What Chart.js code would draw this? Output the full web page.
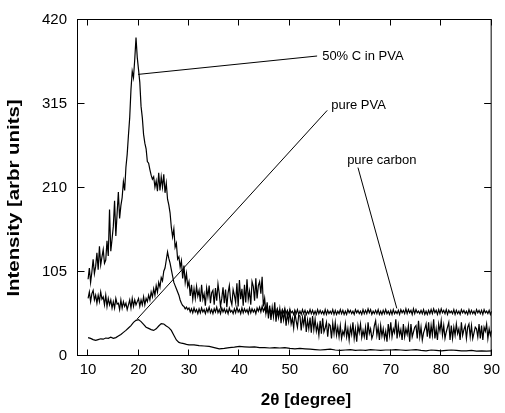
<!DOCTYPE html>
<html>
<head>
<meta charset="utf-8">
<script src="https://cdn.jsdelivr.net/npm/chart.js@4.4.0/dist/chart.umd.min.js"></script>
<style>html,body{margin:0;background:#fff}</style>
</head>
<body>
<canvas id="xrd" width="505" height="413"></canvas>
<script>
// scan grid of the two noisy curves: 10..90 deg, 0.25 deg step
const thetaStart = 10, thetaStep = 0.25;

// 50% C in PVA, one block of 4 per degree
const mixIntensity = [
  96,110,92,105, 121,103,112,129, 108,137,114,124, 133,116,120,144, 125,183,131,146,
  162,194,150,178, 205,172,188,198, 218,207,236,252, 276,298,333,356, 348,371,398,373,
  358,342,312,298, 277,266,259,243, 241,233,226,221, 224,211,219,206, 229,207,224,211,
  227,204,216,196, 189,179,161,149, 159,136,141,121, 124,111,119,97, 113,92,103,87,
  93,75,89,71, 84,72,87,75, 82,68,89,71, 78,63,85,74, 88,66,79,82,
  64,85,69,90, 78,62,72,86, 66,83,61,79, 88,70,64,83, 76,67,91,62,
  95,71,84,63, 89,67,96,71, 81,64,93,87, 69,97,72,88, 93,78,99,62,
  72,54,67,47, 63,45,61,49, 67,43,57,48, 59,41,55,45, 57,38,53,43,
  56,40,47,35, 54,44,36,51, 50,32,48,39, 52,30,45,34, 48,29,50,33,
  46,31,39,26, 44,28,47,30, 35,42,24,40, 38,22,41,28, 42,26,36,24,
  38,22,31,26, 40,24,34,20, 36,27,42,22, 34,18,38,29, 40,23,32,24,
  36,20,42,28, 34,22,27,38, 44,26,36,20, 38,25,34,22, 31,18,40,26,
  42,24,34,29, 46,22,38,26, 33,20,40,24, 34,27,38,18, 40,24,30,36,
  38,22,44,24, 36,20,29,34, 40,24,42,22, 38,26,46,22, 34,20,40,31,
  44,26,38,22, 30,36,42,20, 38,22,36,26, 40,28,34,20, 42,26,33,38,
  22,36,40,24, 38,22,29,36, 34,24,40,22, 38,20,36,31, 40,22,34,26,
  32
];

// pure carbon
const carbonIntensity = [
  72,80,68,78, 82,70,76,66, 76,68,80,71, 74,64,76,62, 72,64,70,60,
  68,60,72,65, 66,58,70,60, 68,62,66,58, 64,70,60,72, 62,70,64,68,
  72,62,70,64, 74,64,72,68, 76,70,80,74, 84,76,88,80, 92,86,98,94,
  106,110,120,130, 122,116,108,100, 92,88,84,80, 76,70,66,63, 62,59,61,58,
  60,55,59,54, 60,55,58,53, 59,54,60,55, 58,53,59,55, 61,54,58,53,
  59,55,61,54, 58,53,60,55, 59,54,58,53, 60,55,57,53, 59,54,61,55,
  58,53,60,54, 59,55,58,53, 60,54,59,55, 58,53,60,56, 61,55,62,56,
  60,54,58,53, 59,55,57,52, 58,53,59,54, 57,52,58,54, 59,53,57,52,
  58,54,56,52, 57,53,58,52, 56,52,58,53, 57,52,56,53, 58,53,57,52,
  56,52,58,53, 57,53,56,52, 58,52,57,53, 56,53,58,52, 57,52,56,53,
  58,53,57,52, 56,52,58,54, 57,53,56,52, 58,54,57,53, 56,52,58,53,
  57,53,59,54, 58,52,56,53, 57,53,58,52, 56,52,57,53, 58,53,56,52,
  57,52,58,53, 56,53,57,52, 58,54,57,53, 59,53,58,54, 57,52,59,53,
  58,54,56,53, 57,53,58,52, 56,52,57,53, 58,53,59,54, 57,52,58,53,
  59,54,57,53, 58,52,57,54, 56,53,58,52, 57,53,56,52, 58,54,57,53,
  56,52,58,53, 57,53,56,52, 58,54,57,53, 57,52,58,54, 56,53,57,52,
  56
];

// pure PVA (smooth)
const pvaTheta = [
  10,10.5,11,11.5,12,12.5,13,13.5,14,14.5,15,15.5,16,16.5,17,17.5,18,18.5,19,19.5,
  20,20.5,21,21.5,22,22.5,23,23.5,24,24.5,25,25.5,26,26.5,27,27.5,28,28.5,29,29.5,30,
  31,32,33,34,35,36,37,38,39,40,41,42,43,44,45,46,47,48,49,50,
  51,52,53,54,55,56,57,58,59,60,61,62,63,64,65,66,67,68,69,70,
  71,72,73,74,75,76,77,78,79,80,81,82,83,84,85,86,87,88,89,90
];
const pvaIntensity = [
  23,22,20.5,19.5,20.5,21.5,21,22.5,22,23.5,22,23,25,27,29.5,32,35,38,42,44.5,
  45.5,43,39.5,36,34.5,33,32,34,37.5,40.5,40,37.5,35.5,32,26,20,17,16,15.5,14.5,14,
  14,13,12.5,12,10.5,9,9.5,10.5,11,12,11.5,11,11.5,10.5,10.5,10,10.5,10,10.5,9.5,
  9,9.5,9,8.5,8,7.5,8,8.5,7.5,7,7.5,8,7,7.5,7,8,7.5,7,7.5,7.5,
  8,7.5,7,7.5,8,7,6.5,7.5,7,6.5,7,7.5,7,6.5,6.5,7,6,6.5,6,6.5
];

const xTicks = [10, 20, 30, 40, 50, 60, 70, 80, 90];
const yTicks = [0, 105, 210, 315, 420];

// callout texts with anchor (data coords) and leader line ends
const callouts = [
  { text: '50% C in PVA', at: [56.4, 375], from: [55.4, 375], to: [19.9, 352] },
  { text: 'pure PVA', at: [58.2, 313], from: [57.4, 307], to: [19.7, 46] },
  { text: 'pure carbon', at: [61.35, 245], from: [63.5, 235.5], to: [71.2, 59.5] }
];

const onGrid = vals => vals.map((v, i) => ({ x: thetaStart + i * thetaStep, y: v }));
const pvaPoints = pvaTheta.map((t, i) => ({ x: t, y: pvaIntensity[i] }));

const FONT = '"Liberation Sans", Arial, sans-serif';
Chart.defaults.font.family = FONT;
Chart.defaults.color = '#000';

const frame = {
  id: 'frame',
  afterDatasetsDraw(chart) {
    const { ctx, chartArea: a, scales: { x, y } } = chart;
    const L = a.left - 0.5, R = a.right - 0.5, T = a.top - 0.5, B = a.bottom - 0.5;
    ctx.save();
    ctx.strokeStyle = '#000';
    ctx.lineWidth = 1;
    ctx.strokeRect(L, T, R - L, B - T);

    // inward ticks on all four sides
    ctx.beginPath();
    xTicks.forEach(v => {
      const px = Math.round(x.getPixelForValue(v)) - 0.5;
      ctx.moveTo(px, B); ctx.lineTo(px, B - 6);
      ctx.moveTo(px, T); ctx.lineTo(px, T + 6);
    });
    yTicks.forEach(v => {
      const py = Math.round(y.getPixelForValue(v)) - 0.5;
      ctx.moveTo(L, py); ctx.lineTo(L + 7, py);
      ctx.moveTo(R, py); ctx.lineTo(R - 7, py);
    });
    ctx.stroke();

    // callouts
    ctx.font = '13px ' + FONT;
    ctx.textAlign = 'left';
    ctx.textBaseline = 'middle';
    callouts.forEach(c => {
      ctx.beginPath();
      ctx.moveTo(x.getPixelForValue(c.from[0]), y.getPixelForValue(c.from[1]));
      ctx.lineTo(x.getPixelForValue(c.to[0]), y.getPixelForValue(c.to[1]));
      ctx.stroke();
      ctx.fillText(c.text, x.getPixelForValue(c.at[0]), y.getPixelForValue(c.at[1]));
    });

    // axis titles
    ctx.font = 'bold 17px ' + FONT;
    ctx.textAlign = 'center';
    ctx.fillText('2θ [degree]', 306, 400);
    ctx.translate(14, 198);
    ctx.rotate(-Math.PI / 2);
    ctx.scale(1.2, 1);
    ctx.fillText('Intensity [arbr units]', 0, 0);
    ctx.restore();
  }
};

const line = (label, data) => ({
  label, data,
  borderColor: '#000', borderWidth: 1.2,
  pointRadius: 0, tension: 0, fill: false
});

new Chart(document.getElementById('xrd'), {
  type: 'line',
  data: {
    datasets: [
      line('50% C in PVA', onGrid(mixIntensity)),
      line('pure carbon', onGrid(carbonIntensity)),
      line('pure PVA', pvaPoints)
    ]
  },
  options: {
    responsive: false,
    animation: false,
    devicePixelRatio: 1,
    layout: { padding: { top: 10, right: 12, left: 0, bottom: 0 } },
    plugins: { legend: { display: false }, tooltip: { enabled: false } },
    scales: {
      x: {
        type: 'linear', min: 8, max: 90,
        grid: { display: false, drawTicks: false }, border: { display: false },
        ticks: { font: { size: 15 }, padding: 5, maxRotation: 0, autoSkip: false },
        afterBuildTicks: s => { s.ticks = xTicks.map(v => ({ value: v })); },
        afterFit: s => { s.height = 57; }
      },
      y: {
        min: 0, max: 420,
        grid: { display: false, drawTicks: false }, border: { display: false },
        ticks: { font: { size: 15 }, padding: 11 },
        afterBuildTicks: s => { s.ticks = yTicks.map(v => ({ value: v })); },
        afterFit: s => { s.width = 78; }
      }
    }
  },
  plugins: [frame]
});
</script>
</body>
</html>
